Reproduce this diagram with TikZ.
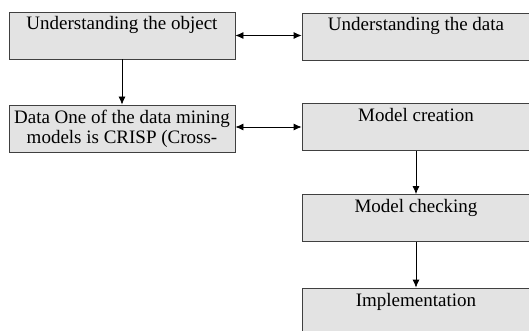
\documentclass[tikz,border=0pt]{standalone}
\usepackage{fontspec}
\setmainfont{Liberation Serif}
\usetikzlibrary{arrows.meta, positioning}

\tikzset{
    stage/.style={draw=black!75, line width=0.8pt, fill=black!11, minimum width=226pt, minimum height=47pt,
        inner ysep=4pt, text height=14pt, text depth=25pt,
        font=\fontsize{19}{20}\selectfont},
    twoline/.style={text height=, text depth=, align=center},
    flow/.style={-{Latex[length=8pt,width=7pt]}, black, line width=0.8pt},
    both/.style={{Latex[length=8pt,width=7pt]}-{Latex[length=8pt,width=7pt]}, black, line width=0.8pt}
}

\begin{document}
\begin{tikzpicture}[x=1pt, y=-1pt]
    \useasboundingbox (0,0) rectangle (529,331);

    % Left column
    \node[stage] (object) at (122,35.5) {Understanding the object};
    \node[stage, twoline] (crisp) at (122,128.5) {Data One of the data mining\\models is CRISP (Cross-};

    % Right column
    \node[stage, minimum width=228pt] (data) at (416,36.5) {Understanding the data};
    \node[stage, minimum width=228pt] (creation) at (416,127) {Model creation};
    \node[stage, minimum width=228pt] (checking) at (416,218) {Model checking};
    \node[stage, minimum width=228pt] (impl) at (416,311.5) {Implementation};

    % Connectors
    \draw[both] (object.east) -- (object.east -| data.west);
    \draw[flow] (object) -- (crisp);
    \draw[both] (crisp.east |- creation) -- (creation.west);
    \draw[flow] (creation) -- (checking);
    \draw[flow] (checking) -- (impl);
\end{tikzpicture}
\end{document}
